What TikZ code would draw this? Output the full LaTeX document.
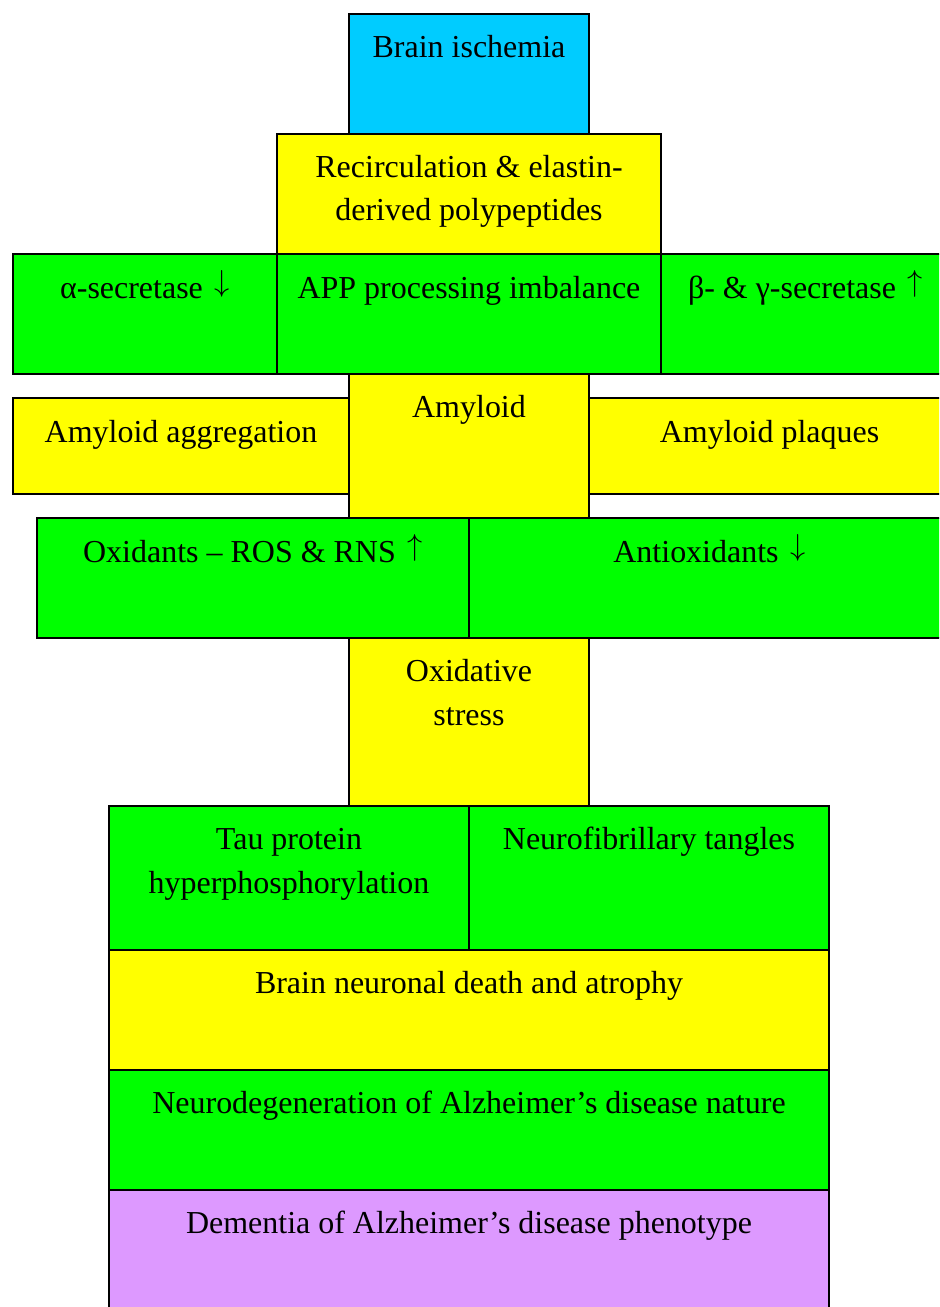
\documentclass[tikz,border=0pt]{standalone}
\usepackage{fontspec}
\setmainfont{Liberation Serif}
\newcommand\pxu{0.02cm}
\newcommand\arrdown{\hspace{0.12em}\raisebox{0.19em}{$\downarrow$}}
\newcommand\arrup{\hspace{0.12em}\raisebox{0.19em}{$\uparrow$}}
\definecolor{ischcyan}{HTML}{00CCFF}
\definecolor{boxyellow}{HTML}{FFFF00}
\definecolor{boxgreen}{HTML}{00FF00}
\definecolor{boxviolet}{HTML}{DD99FF}
\tikzset{
  box/.style={draw, line width=1.1pt, anchor=north west, inner sep=0pt, outer sep=0pt},
  txt/.style={anchor=base, align=center, inner sep=0pt, font=\fontsize{18.2}{25}\selectfont},
}
\begin{document}
\begin{tikzpicture}[x=0.02cm, y=-0.02cm]
  \useasboundingbox (0,0) rectangle (939,1307);
  \clip (0,0) rectangle (939,1307);
  % boxes
  \node[box, fill=ischcyan, minimum width=240*\pxu, minimum height=120*\pxu] (isch) at (349,14) {};
  \node[box, fill=boxyellow, minimum width=384*\pxu, minimum height=120*\pxu] (recirc) at (277,134) {};
  \node[box, fill=boxgreen, minimum width=264*\pxu, minimum height=120*\pxu] (alpha) at (13,254) {};
  \node[box, fill=boxgreen, minimum width=384*\pxu, minimum height=120*\pxu] (app) at (277,254) {};
  \node[box, fill=boxgreen, minimum width=289*\pxu, minimum height=120*\pxu] (beta) at (661,254) {};
  \node[box, fill=boxyellow, minimum width=336*\pxu, minimum height=96*\pxu] (aggr) at (13,398) {};
  \node[box, fill=boxyellow, minimum width=240*\pxu, minimum height=144*\pxu] (amyl) at (349,374) {};
  \node[box, fill=boxyellow, minimum width=361*\pxu, minimum height=96*\pxu] (plaq) at (589,398) {};
  \node[box, fill=boxgreen, minimum width=432*\pxu, minimum height=120*\pxu] (oxid) at (37,518) {};
  \node[box, fill=boxgreen, minimum width=481*\pxu, minimum height=120*\pxu] (antiox) at (469,518) {};
  \node[box, fill=boxyellow, minimum width=240*\pxu, minimum height=168*\pxu] (stress) at (349,638) {};
  \node[box, fill=boxgreen, minimum width=360*\pxu, minimum height=144*\pxu] (tau) at (109,806) {};
  \node[box, fill=boxgreen, minimum width=360*\pxu, minimum height=144*\pxu] (nft) at (469,806) {};
  \node[box, fill=boxyellow, minimum width=720*\pxu, minimum height=120*\pxu] (death) at (109,950) {};
  \node[box, fill=boxgreen, minimum width=720*\pxu, minimum height=120*\pxu] (neuro) at (109,1070) {};
  \node[box, fill=boxviolet, minimum width=720*\pxu, minimum height=120*\pxu] (dement) at (109,1190) {};
  % texts (two-line nodes sit on their last baseline)
  \node[txt] (isch-t) at ([yshift=-44*\pxu]isch.north) {Brain ischemia};
  \node[txt] (recirc-t) at ([yshift=-87*\pxu]recirc.north) {Recirculation \& elastin-\\derived polypeptides};
  \node[txt] (alpha-t) at ([yshift=-44*\pxu]alpha.north) {α-secretase \arrdown};
  \node[txt] (app-t) at ([yshift=-44*\pxu]app.north) {APP processing imbalance};
  \node[txt] (beta-t) at ([yshift=-44*\pxu]beta.north) {β- \& γ-secretase \arrup};
  \node[txt] (aggr-t) at ([yshift=-44*\pxu]aggr.north) {Amyloid aggregation};
  \node[txt] (amyl-t) at ([yshift=-43*\pxu]amyl.north) {Amyloid};
  \node[txt] (plaq-t) at ([yshift=-44*\pxu]plaq.north) {Amyloid plaques};
  \node[txt] (oxid-t) at ([yshift=-44*\pxu]oxid.north) {Oxidants – ROS \& RNS \arrup};
  \node[txt] (antiox-t) at ([yshift=-44*\pxu]antiox.north) {Antioxidants \arrdown};
  \node[txt] (stress-t) at ([yshift=-87*\pxu]stress.north) {Oxidative\\stress};
  \node[txt] (tau-t) at ([yshift=-87*\pxu]tau.north) {Tau protein\\hyperphosphorylation};
  \node[txt] (nft-t) at ([yshift=-43*\pxu]nft.north) {Neurofibrillary tangles};
  \node[txt] (death-t) at ([yshift=-43*\pxu]death.north) {Brain neuronal death and atrophy};
  \node[txt] (neuro-t) at ([yshift=-43*\pxu]neuro.north) {Neurodegeneration of Alzheimer’s disease nature};
  \node[txt] (dement-t) at ([yshift=-43*\pxu]dement.north) {Dementia of Alzheimer’s disease phenotype};
\end{tikzpicture}
\end{document}
